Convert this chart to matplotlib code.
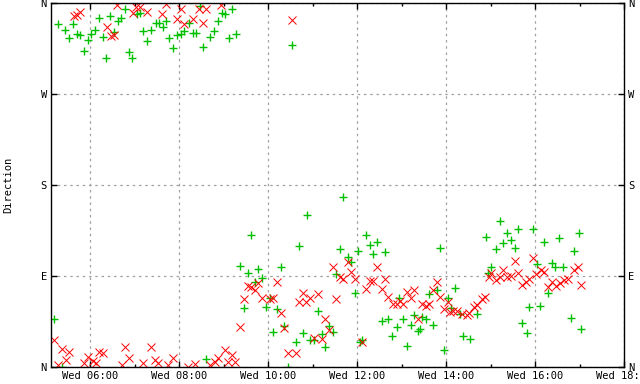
import matplotlib
matplotlib.use("Agg")
import matplotlib.pyplot as plt
from matplotlib.ticker import FixedLocator, FuncFormatter

# time in hours (Wed), direction in degrees
green_t = [5.27, 5.44, 5.53, 5.62, 5.71, 5.78, 5.87, 5.96, 6.02, 6.11, 6.20, 6.29,
           6.35, 6.45, 6.53, 6.62, 6.69, 6.79, 6.88, 6.94, 7.06, 7.12, 7.19, 7.28,
           7.37, 7.48, 7.54, 7.63, 7.71, 7.78, 7.87, 7.96, 8.04, 8.11, 8.21, 8.30,
           8.38, 8.47, 8.54, 8.69, 8.79, 8.88, 8.97, 9.04, 9.19, 9.27, 9.12, 10.54,
           5.19, 5.36, 8.60,
           9.61, 9.36, 9.54, 9.78, 9.87, 9.70, 9.45, 9.96, 10.04, 10.20, 10.29, 10.36,
           10.11, 10.45, 10.70, 10.63, 10.79, 10.95, 11.03, 11.12, 11.21, 11.28, 11.37,
           11.46, 11.62, 11.80, 11.87, 11.53, 11.95, 12.03, 11.69, 10.88, 12.06,
           12.20, 12.29, 12.45, 12.35, 12.63, 12.11, 12.55, 12.70, 12.89, 12.79, 12.94,
           13.03, 13.12, 13.21, 13.28, 13.37, 13.46, 13.54, 13.41, 13.62, 13.71, 13.80,
           13.86, 13.95, 14.04, 14.11, 14.20, 14.31, 14.38, 14.53, 14.70, 14.89, 14.94,
           15.02, 15.12, 15.21, 15.28, 15.37, 15.47, 15.56, 15.62, 15.71, 15.81, 15.86,
           15.96, 16.04, 16.12, 16.20, 16.29, 16.39, 16.44, 16.54, 16.63, 16.80, 16.88,
           16.98, 17.04]
green_d = [339.3, 333.3, 325.4, 339.3, 329.4, 328.7, 312.1, 323.4, 329.0, 333.6, 345.2, 326.4,
           305.6, 346.8, 331.4, 341.8, 345.2, 354.4, 311.6, 305.6, 349.5, 350.2, 332.6, 322.4,
           333.3, 340.3, 340.3, 336.3, 342.2, 325.4, 315.5, 328.7, 329.4, 332.6, 340.3, 330.4,
           330.4, 356.7, 316.5, 326.4, 332.3, 342.2, 350.2, 349.5, 354.4, 329.7, 325.4, 318.5,
           47.2, 0.3, 8.2,
           130.4, 100.0, 92.8, 96.7, 87.8, 84.4, 58.7, 59.1, 68.6, 57.7, 99.0, 40.6,
           34.4, 0.3, 119.8, 24.5, 33.4, 26.7, 26.7, 55.4, 32.7, 19.5, 40.6,
           34.9, 116.5, 108.6, 103.7, 91.8, 73.0, 115.1, 168.0, 150.5, 25.0,
           130.7, 120.8, 123.4, 111.9, 113.9, 26.7, 45.2, 47.2, 39.9, 30.7, 68.0,
           47.2, 20.8, 41.3, 51.5, 35.9, 49.8, 47.2, 37.3, 72.0, 41.3, 76.2,
           118.1, 16.5, 68.0, 58.1, 77.9, 52.2, 30.7, 27.4, 52.2, 129.0, 92.8,
           98.7, 116.5, 144.8, 123.0, 132.4, 125.7, 118.1, 136.3, 43.3, 34.0, 59.1,
           136.3, 101.7, 60.7, 123.4, 73.0, 103.3, 98.7, 127.4, 98.7, 48.2, 115.1,
           133.0, 37.3]

red_t = [5.63, 5.71, 5.77, 6.37, 6.47, 6.54, 6.61, 6.95, 7.03, 7.12, 7.28, 7.62,
         7.70, 7.96, 8.05, 8.11, 8.30, 8.44, 8.60, 8.54, 8.94, 10.54,
         5.19, 5.37, 5.52, 5.45, 5.28, 5.86, 5.96, 6.07, 6.20, 6.29, 6.13, 6.71,
         6.78, 6.88, 7.19, 7.36, 7.45, 7.53, 7.75, 7.87, 8.20, 8.35, 8.69, 8.80,
         8.88, 9.03, 9.18, 9.10, 9.25,
         9.36, 9.46, 9.54, 9.61, 9.70, 9.78, 9.87, 10.04, 10.11, 10.20, 10.29, 10.36,
         10.45, 10.62, 10.79, 10.70, 10.86, 10.94, 11.12, 11.28, 11.37, 11.20, 11.03,
         11.53, 11.46, 11.61, 11.69, 11.80, 11.86, 11.95,
         12.11, 12.20, 12.29, 12.36, 12.45, 12.55, 12.63, 12.70, 12.80, 12.89, 12.96,
         13.03, 13.12, 13.21, 13.28, 13.37, 13.45, 13.54, 13.62, 13.71, 13.80, 13.86,
         13.95, 14.04, 14.08, 14.16, 14.25, 14.35, 14.46, 14.52, 14.63, 14.70, 14.80,
         14.87, 14.96, 15.00, 15.12, 15.21, 15.28, 15.37, 15.45, 15.56, 15.62, 15.71,
         15.80, 15.87, 15.96, 16.03, 16.14, 16.20, 16.29, 16.38, 16.48, 16.56, 16.65,
         16.74, 16.87, 16.97, 17.04]
red_d = [347.5, 348.5, 350.8, 336.3, 327.7, 328.7, 358.4, 350.2, 356.1, 356.1, 351.2, 349.2,
         359.4, 344.5, 354.1, 339.6, 344.5, 354.1, 354.1, 340.3, 357.7, 342.8,
         26.7, 17.8, 14.6, 6.9, 2.0, 3.7, 10.2, 5.9, 15.1, 13.6, 4.3, 2.0,
         20.1, 8.6, 4.3, 20.1, 6.9, 4.3, 2.0, 8.6, 0.3, 3.0, 2.0, 5.2,
         8.6, 16.8, 11.9, 5.2, 5.2,
         39.9, 67.0, 80.2, 78.9, 76.2, 83.5, 68.6, 67.0, 68.0, 84.4, 53.2, 38.3,
         13.6, 13.6, 73.6, 64.6, 64.6, 68.0, 72.3, 47.2, 36.6, 27.4, 28.4,
         67.0, 98.7, 89.4, 86.8, 103.7, 94.3, 86.8,
         24.5, 76.9, 85.4, 85.4, 98.7, 76.9, 86.8, 69.0, 62.4, 62.4, 65.0,
         62.4, 74.5, 68.0, 76.2, 47.2, 62.4, 60.4, 62.4, 76.2, 84.4, 69.6,
         57.1, 64.6, 54.7, 55.7, 55.7, 52.5, 51.5, 53.2, 59.1, 61.4, 67.3,
         69.0, 88.8, 92.8, 86.1, 88.8, 96.0, 89.4, 90.1, 104.9, 93.4, 81.2,
         83.9, 87.1, 107.6, 92.1, 96.0, 94.3, 79.5, 83.9, 80.2, 82.9, 86.1,
         87.1, 96.0, 98.7, 81.2]

x_major = [6, 8, 10, 12, 14, 16, 18]
x_minor = [7, 9, 11, 13, 15, 17]
y_ticks = [0, 90, 180, 270, 360]
y_labels = ["N", "E", "S", "W", "N"]

fig = plt.figure(figsize=(6.4, 3.84), dpi=100)
ax = fig.add_axes([51 / 640, 17 / 384, 573 / 640, 364 / 384])

ax.plot(green_t, green_d, '+', color='#00c000', markersize=6, mew=1.0)
ax.plot(red_t, red_d, 'x', color='#ff0000', markersize=5.5, mew=0.7)

ax.set_xlim(5.117, 18.0)
ax.set_ylim(0, 360)

ax.xaxis.set_major_locator(FixedLocator(x_major))
ax.xaxis.set_minor_locator(FixedLocator(x_minor))
ax.xaxis.set_major_formatter(FuncFormatter(lambda v, p: 'Wed %02d:00' % int(round(v))))
ax.set_yticks(y_ticks)
ax.set_yticklabels(y_labels)

mono = 'DejaVu Sans Mono'
ax.tick_params(axis='both', which='major', direction='in', length=4, width=1,
               labelsize=7.5, top=True, right=True, labelright=True, pad=3)
ax.tick_params(axis='x', which='minor', direction='in', length=2, width=1,
               top=True)
for lab in ax.get_xticklabels() + ax.get_yticklabels():
    lab.set_fontfamily(mono)
for t in ax.yaxis.get_major_ticks():
    t.label2.set_fontfamily(mono)
    t.label2.set_fontsize(7.5)

ax.grid(True, which='major', color='#a0a0a0', linestyle=(0, (2, 3)), linewidth=0.9)
for s in ax.spines.values():
    s.set_linewidth(1.0)

ax.set_ylabel('Direction', fontsize=7.5, fontfamily=mono)
ax.yaxis.set_label_coords(-0.066, 0.5)

fig.savefig('out.png', dpi=100)
